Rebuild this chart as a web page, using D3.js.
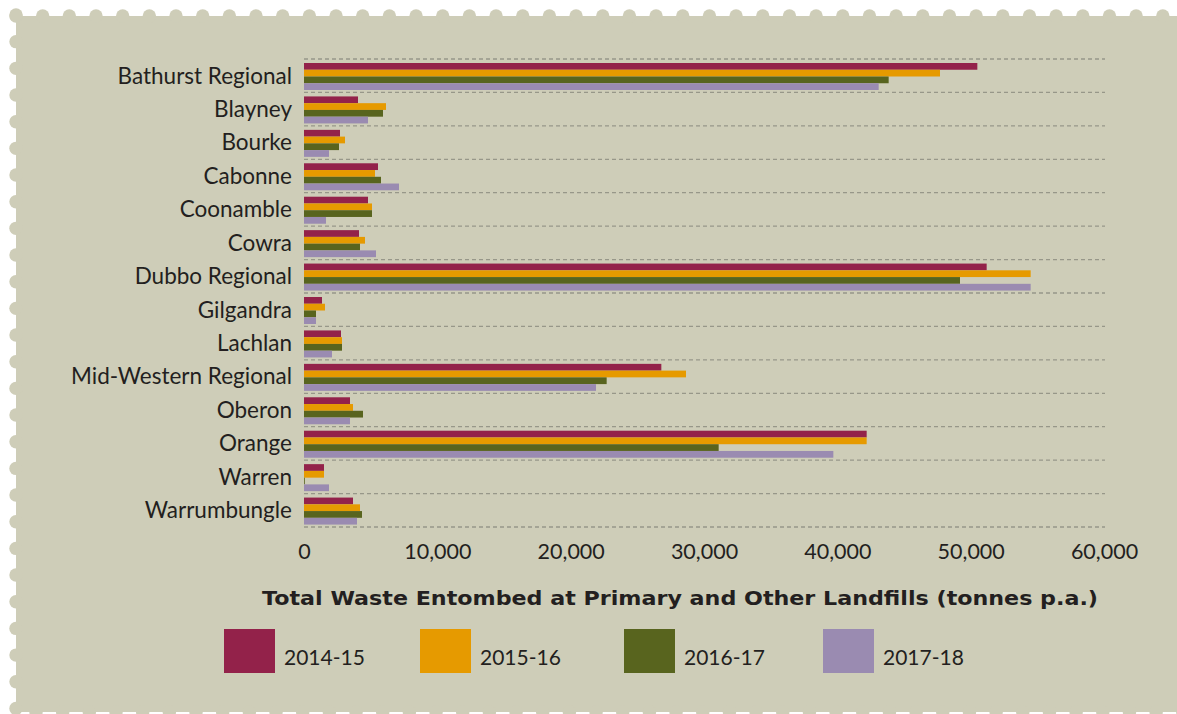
<!DOCTYPE html>
<html>
<head>
<meta charset="utf-8">
<script src="https://cdn.jsdelivr.net/npm/d3@7"></script>
<style>
  body { margin: 0; background: #ffffff; }
  svg { display: block; }
</style>
</head>
<body>
<div id="chart"></div>
<script>
// data (tonnes p.a.)
var councils = ["Bathurst Regional", "Blayney", "Bourke", "Cabonne", "Coonamble", "Cowra",
  "Dubbo Regional", "Gilgandra", "Lachlan", "Mid-Western Regional", "Oberon", "Orange",
  "Warren", "Warrumbungle"];
var years = ["2014-15", "2015-16", "2016-17", "2017-18"];
var v2014 = [50500, 4050, 2700, 5550, 4800, 4125, 51200, 1350, 2775, 26800, 3450, 42200, 1500, 3675];
var v2015 = [47700, 6150, 3075, 5325, 5100, 4575, 54500, 1575, 2850, 28650, 3675, 42200, 1500, 4200];
var v2016 = [43850, 5925, 2625, 5775, 5100, 4200, 49200, 900, 2850, 22700, 4425, 31100, 60, 4350];
var v2017 = [43100, 4800, 1875, 7125, 1650, 5400, 54500, 900, 2100, 21900, 3450, 39700, 1875, 3975];
var xTicks = [0, 10000, 20000, 30000, 40000, 50000, 60000];
var colours = ["#93224a", "#e69a00", "#58641e", "#9a8bb1"];

var seriesVals = [v2014, v2015, v2016, v2017];

var width = 1177;
var height = 714;
var bg = "#cecdb8";

var svg = d3.select("#chart").append("svg").attr("width", width).attr("height", height);

// stamp shaped background
var r = 6.7, step = 26.67;
svg.append("rect").attr("x", 16).attr("y", 16).attr("width", width - 16).attr("height", 696).style("fill", bg);
var topX = d3.range(16, width + r, step);
svg.selectAll("bumpTop").data(topX).enter().append("circle")
  .attr("cx", function(d) { return d; }).attr("cy", 16).attr("r", r).style("fill", bg);
var leftY = d3.range(15, height + r, step);
svg.selectAll("bumpLeft").data(leftY).enter().append("circle")
  .attr("cx", 16).attr("cy", function(d) { return d; }).attr("r", r).style("fill", bg);
var botX = d3.range(36, width + r, step);
svg.selectAll("bumpBot").data(botX).enter().append("circle")
  .attr("cx", function(d) { return d; }).attr("cy", 712).attr("r", r).style("fill", bg);

// scales
var x = d3.scaleLinear().domain([0, 60000]).range([304, 1104]);
var y = d3.scaleBand().domain(councils).range([59, 527]).padding(0);
var ySub = d3.scaleBand().domain(years).range([4, 31]).padding(0);

// dashed gridlines at band edges
var edges = councils.map(function(c) { return y(c); }).concat([y.range()[1]]);
svg.selectAll("grid").data(edges).enter().append("line")
  .attr("x1", 304).attr("x2", 1105)
  .attr("y1", function(d) { return d; }).attr("y2", function(d) { return d; })
  .attr("stroke", "#979789").attr("stroke-width", 1.3).attr("stroke-dasharray", "4,3");

// bars
years.forEach(function(yr, i) {
  svg.selectAll("bar" + i).data(councils).enter().append("rect")
    .attr("x", x(0))
    .attr("y", function(d) { return y(d) + ySub(yr); })
    .attr("width", function(d, j) { return x(seriesVals[i][j]) - x(0); })
    .attr("height", ySub.bandwidth())
    .style("fill", colours[i]);
});

// category labels
svg.selectAll("catLabel").data(councils).enter().append("text")
  .attr("x", 292)
  .attr("y", function(d) { return y(d) + y.bandwidth() / 2; })
  .attr("dy", "0.35em")
  .attr("text-anchor", "end")
  .style("font-family", "Lato, sans-serif").style("font-size", "22.5px").style("fill", "#231f20")
  .text(function(d) { return d; });

// x axis
var xAxis = d3.axisBottom(x).tickValues(xTicks).tickFormat(d3.format(",")).tickSize(0).tickPadding(0);
var gx = svg.append("g").attr("transform", "translate(0,544)").call(xAxis);
gx.select(".domain").remove();
gx.selectAll("text").style("font-family", "Lato, sans-serif").style("font-size", "21.5px").style("fill", "#231f20");

// axis title
svg.append("text").attr("x", 680).attr("y", 605).attr("text-anchor", "middle")
  .attr("textLength", 836).attr("lengthAdjust", "spacingAndGlyphs")
  .style("font-family", "'DejaVu Sans', sans-serif").style("font-weight", "bold").style("font-size", "20px").style("fill", "#231f20")
  .text("Total Waste Entombed at Primary and Other Landfills (tonnes p.a.)");

// legend
var legX = [224, 420, 624, 823];
var leg = svg.selectAll("legend").data(years).enter().append("g")
  .attr("transform", function(d, i) { return "translate(" + legX[i] + ",629)"; });
leg.append("rect").attr("width", 51).attr("height", 44).style("fill", function(d, i) { return colours[i]; });
leg.append("text").attr("x", 60).attr("y", 36)
  .style("font-family", "Lato, sans-serif").style("font-size", "21px").style("fill", "#231f20")
  .text(function(d) { return d; });
</script>
</body>
</html>
